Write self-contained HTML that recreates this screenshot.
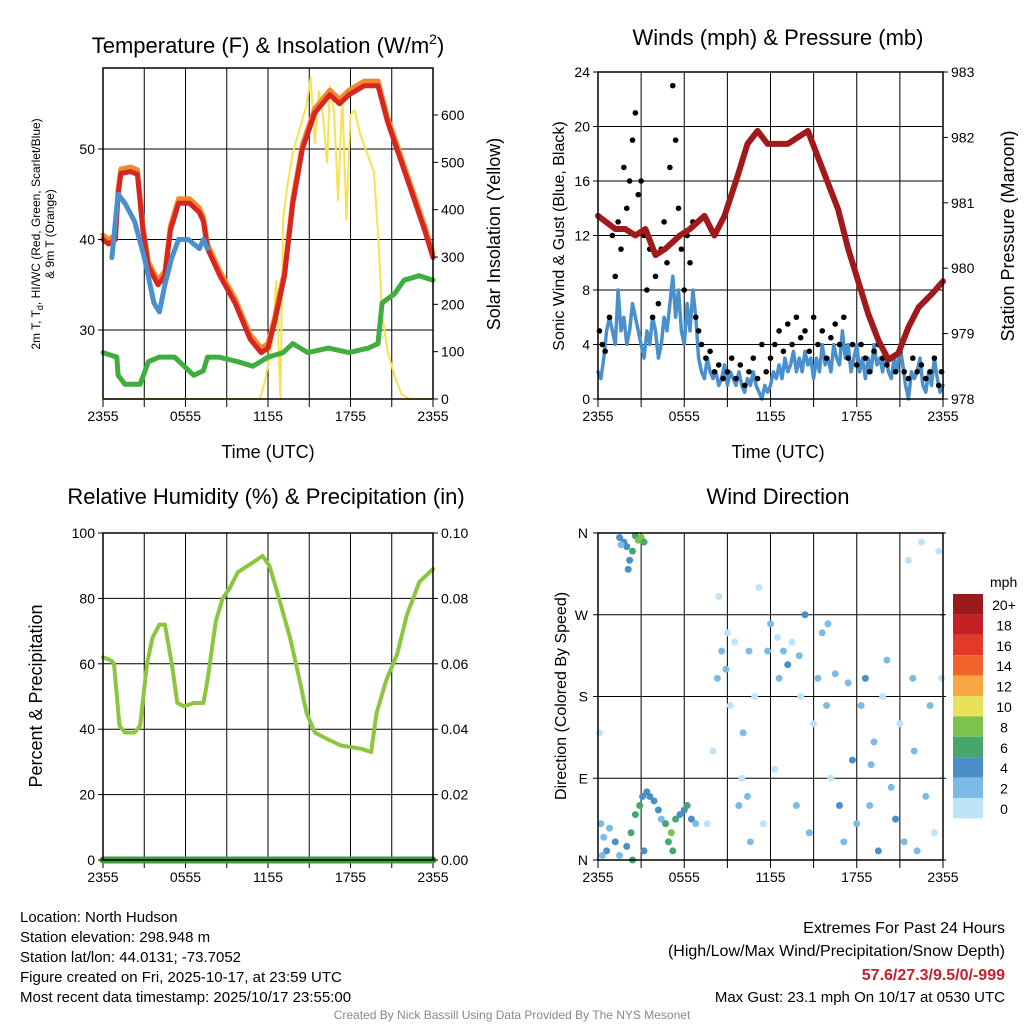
<!DOCTYPE html>
<html><head><meta charset="utf-8"><style>
html,body{margin:0;padding:0;background:#fff;}
svg{display:block;font-family:"Liberation Sans",sans-serif;}
</style></head><body>
<svg id="c" width="1024" height="1024" viewBox="0 0 1024 1024" xmlns="http://www.w3.org/2000/svg"></svg>
<script>
// ---------- DATA ----------
const tempTimes=[0,0.4,0.9,1.1,1.3,2.0,2.5,2.9,3.3,4.0,4.5,4.9,5.5,6.3,7.0,7.3,7.6,8.5,9.6,10.7,11.5,12.0,12.5,13.2,13.8,14.5,15.4,16.5,17.2,17.9,19.0,20.0,20.7,21.6,22.5,23.4,24];
const tempVals=[40,39.5,40,45,47.3,47.5,47.2,41,37,35,36,41,44,44,43,42,39,36,33,29,27.5,28,31,36,44,50,54,56,55,56,57,57,53,49,45,41,38];
const chillTimes=[0.65,0.9,1.1,1.6,2.3,3.0,3.7,4.1,4.5,5.0,5.5,6.2,7.0,7.3,7.6];
const chillVals=[38,42,45,44,42,38,33,32,35,38,40,40,39,40,39];
const dewTimes=[0,1.0,1.1,1.6,2.7,3.3,4.1,5.2,5.9,6.6,7.3,7.6,8.4,9.8,10.9,12.0,13.1,13.8,14.9,16.4,17.9,19.3,20.0,20.3,21.2,21.9,23.0,24];
const dewVals=[27.5,27,25,24,24,26.5,27,27,26,25,25.5,27,27,26.5,26,27,27.5,28.5,27.5,28,27.5,28,28.5,33,34,35.5,36,35.5];
const solTimes=[0,11.4,11.8,12.3,12.6,12.9,13.1,13.4,13.8,14.3,14.8,15.1,15.4,15.7,16.0,16.3,16.5,16.8,17.1,17.4,17.7,18.0,18.3,18.7,19.2,19.7,20.0,20.3,20.7,21.2,21.7,22.3,24];
const solVals=[0,0,40,120,250,0,380,450,520,570,620,680,540,650,600,500,660,610,420,640,380,600,610,560,520,480,350,180,100,50,10,0,0];
const presTimes=[0,1.2,1.9,2.6,3.3,4.0,4.7,5.7,6.4,7.4,8.1,8.8,9.7,10.4,11.1,11.8,12.5,13.2,13.9,14.6,15.3,16.0,16.7,17.4,18.1,18.8,19.5,20.2,20.9,21.6,22.3,23.2,24];
const presVals=[980.8,980.6,980.6,980.5,980.6,980.2,980.3,980.5,980.6,980.8,980.5,980.8,981.4,981.9,982.1,981.9,981.9,981.9,982.0,982.1,981.7,981.3,980.9,980.3,979.8,979.3,978.9,978.6,978.7,979.1,979.4,979.6,979.8];
const windVals=[2,1.5,3,5,6,5,4,8,5,6, 4,5,7,6,5,4,3,5,4,6, 5,3,4,6,5,7,9,6,8,5, 4,7,5,8,6,3,2,1.5,3,2, 1.5,2,1,1.5,2.5,1,2,1.5,1,2, 1,0.5,1.5,1,2,1,0.5,0,1,0.5, 1,2,1.5,2.5,1.5,3,2,2.5,3.5,2, 3,2,3.5,2.5,3,1.5,3,2,4,2.5, 3,2,4,3,2.5,5,3,4,2,3, 4,2,3,1.5,3,2,4,2.5,3,2, 3.5,2,1.5,3,2,4,2.5,1,0,2, 1.5,2,3,1,0.5,2,1,3,1.5,0.5,1];
const gustTimes=[0.1,0.3,0.5,0.8,1.0,1.2,1.4,1.6,1.8,2.0,2.2,2.4,2.6,2.8,3.0,3.2,3.4,3.6,3.8,4.0,4.2,4.4,4.6,4.8,5.0,5.2,5.4,5.6,5.8,6.0,6.2,6.4,6.6,6.8,7.0,7.2,7.5,7.8,8.1,8.4,8.7,9.0,9.3,9.6,9.9,10.2,10.5,10.8,11.1,11.4,11.7,12.0,12.3,12.6,12.9,13.2,13.5,13.8,14.1,14.4,14.7,15.0,15.3,15.6,15.9,16.2,16.5,16.8,17.1,17.4,17.7,18.0,18.3,18.6,18.9,19.2,19.5,19.8,20.1,20.4,20.7,21.0,21.3,21.6,21.9,22.2,22.5,22.8,23.1,23.4,23.7,23.9];
const gustVals=[5,4,3.5,6,12,9,13,11,17,14,16,19,21,15,16,12,8,11,6,9,7,11,13,10,17,23,19,14,11,8,12,10,13,6,5,4,3,3.5,2,2.5,1.5,2,3,1.5,2.5,1,2,3,1.5,4,2,3,4,5,3.5,5.5,4,6,4.5,5,3.5,6,4,5,3,4.5,5.5,4,6,3,4,2.5,4,3,2,3.5,4,3,2.5,3,2,3.5,2,1.5,3,2,2.5,1.5,2,3,1,2];
const rhTimes=[0,0.6,0.8,1.2,1.6,2.3,2.7,3.2,3.6,4.1,4.5,5.0,5.4,5.9,6.6,7.3,7.6,8.2,8.7,9.2,9.8,10.9,11.6,12.1,12.8,13.6,14.3,14.8,15.4,16.3,17.3,18.8,19.5,19.9,20.6,21.4,22.1,23.0,24];
const rhVals=[62,61,60,41,39,39,41,60,68,72,72,60,48,47,48,48,55,73,80,83,88,91,93,90,80,68,55,45,39,37,35,34,33,45,55,63,75,85,89];
const dirTimes=[1.5,1.8,2.0,2.2,2.4,2.6,2.8,3.0,3.2,2.1,1.6,0.2,0.4,0.6,0.8,1.2,1.5,2.0,2.3,2.6,2.9,3.1,3.4,3.6,3.9,4.2,4.4,4.7,4.9,5.1,5.4,5.7,6.0,6.2,6.5,6.8,3.2,2.4,5.2,0.1,0.3,7.6,8.0,8.3,8.6,8.9,9.2,9.5,9.8,10.0,10.1,10.4,10.6,10.9,11.2,11.5,11.8,12.0,12.3,12.6,12.9,13.2,13.5,13.8,14.1,14.4,14.7,15.0,15.3,15.6,15.9,16.2,16.5,16.8,17.1,17.4,17.7,18.0,18.3,18.6,18.9,19.2,19.5,19.8,20.1,20.4,20.7,21.0,21.3,21.6,21.9,22.2,22.5,22.8,23.1,23.4,23.7,23.9,22.0,19.0,16.0,14.0,12.5,10.5,9.0,8.4];
const dirVals=[355,350,345,330,340,357,352,355,350,320,347,40,25,10,35,20,5,15,30,50,60,70,75,70,65,55,45,40,20,30,45,50,55,60,45,40,10,0,10,140,5,40,120,200,230,210,170,240,60,90,140,70,20,180,300,40,230,260,100,200,230,215,240,60,180,270,30,150,200,250,170,90,205,60,20,195,110,40,170,200,60,130,10,180,220,80,45,150,20,330,200,10,350,70,170,30,340,200,120,105,260,225,245,230,250,290];
const dirSpeeds=[5,5,4,4,7,7,8,8,7,4,3,2,3,4,3,4,2,5,6,6,7,5,4,5,4,4,3,6,7,8,6,4,5,7,4,3,5,6,7,1,3,1,1,3,2,2,1,1,2,1,2,3,2,1,1,1,2,3,1,2,3,4,1,2,1,4,3,1,2,3,2,1,3,4,2,3,4,3,2,4,3,2,4,1,3,2,4,1,3,1,2,2,1,3,2,1,1,1,2,3,3,2,1,2,1,1];
const cbLabels=["20+","18","16","14","12","10","8","6","4","2","0"];
const cbColors=["#9b1a1c","#c41f25","#e2392b","#f0632b","#f8a646","#e8e25a","#7cc24d","#46a66e","#4a8fc6","#7cbbe6","#bde4f8"];

// ---------- HELPERS ----------
const svg=document.getElementById('c');const NS='http://www.w3.org/2000/svg';
function mk(tag,attrs,parent){const e=document.createElementNS(NS,tag);for(const k in attrs)e.setAttribute(k,attrs[k]);(parent||svg).appendChild(e);return e;}
function txt(x,y,s,size,anchor,parent,extra){const e=mk('text',Object.assign({x:x,y:y,'font-size':size,'text-anchor':anchor||'middle',fill:'#000'},extra||{}),parent);e.textContent=s;return e;}
function lin(a,b,c,d){return v=>c+(v-a)*(d-c)/(b-a);}
function panel(name,x0,y0,x1,y1,hgrid){
  const g=mk('g',{});
  for(let i=0;i<=8;i++){const x=x0+(x1-x0)*i/8;if(i>0&&i<8)mk('line',{x1:x,y1:y0,x2:x,y2:y1,stroke:'#000','stroke-width':1},g);mk('line',{x1:x,y1:y1,x2:x,y2:y1+8,stroke:'#000'},g);}
  hgrid.forEach(y=>mk('line',{x1:x0,y1:y,x2:x1,y2:y,stroke:'#000','stroke-width':1},g));
  const xl=['2355','0555','1155','1755','2355'];
  for(let i=0;i<5;i++){const x=x0+(x1-x0)*i/4;txt(x,y1+22,xl[i],14,'middle',g);}
  return g;}
function frame(g,x0,y0,x1,y1){mk('rect',{x:x0,y:y0,width:x1-x0,height:y1-y0,fill:'none',stroke:'#000','stroke-width':1.5},g);}
function poly(g,xs,ys,fx,fy,color,w,name){const p=mk('polyline',{points:xs.map((t,i)=>fx(t).toFixed(1)+','+fy(ys[i]).toFixed(1)).join(' '),fill:'none',stroke:color,'stroke-width':w,'stroke-linejoin':'round','stroke-linecap':'round'},g);return p;}
function yticks(g,vals,fy,x,side,fmt){vals.forEach(v=>{const y=fy(v);txt(side<0?x-8:x+8,y+5,fmt(v),14,side<0?'end':'start',g);mk('line',{x1:x,y1:y,x2:x+side*5,y2:y,stroke:'#000'},g);});}

// ---------- PANEL 1 ----------
{const X0=103,X1=433,Y0=68,Y1=399;
 const fx=lin(0,24,X0,X1),fy=lin(30,50,330,149),fs=lin(0,600,399,115);
 const g=panel('temperature-panel',X0,Y0,X1,Y1,[fy(30),fy(40),fy(50)]);
 poly(g,solTimes,solVals,fx,fs,'#f7e24f',2,'solar-insolation-line');
 poly(g,dewTimes,dewVals,fx,fy,'#3fae3f',5,'dewpoint-line');
 poly(g,tempTimes,tempVals.map(v=>v+0.5),fx,fy,'#f08a2c',5,'temp-9m-line');
 poly(g,tempTimes,tempVals,fx,fy,'#d7261f',5,'temp-2m-line');
 poly(g,chillTimes,chillVals,fx,fy,'#4a90cc',5,'windchill-line');
 frame(g,X0,Y0,X1,Y1);
 yticks(g,[30,40,50],fy,X0,-1,v=>v);
 yticks(g,[0,100,200,300,400,500,600],fs,X1,1,v=>v);
 const t=txt(268,53,'Temperature (F) & Insolation (W/m',22,'middle',g);const s=mk('tspan',{'font-size':14,dy:-9},t);s.textContent='2';const s2=mk('tspan',{dy:9},t);s2.textContent=')';
 
 txt(268,458,'Time (UTC)',18,'middle',g);
 const yl=txt(0,0,'',12,'middle',g,{transform:'translate(40,234) rotate(-90)'});yl.innerHTML='2m T, T<tspan font-size="9" dy="3">d</tspan><tspan dy="-3">, HI/WC (Red, Green, Scarlet/Blue)</tspan>';
 txt(0,0,'& 9m T (Orange)',12,'middle',g,{transform:'translate(54,234) rotate(-90)'});
 txt(0,0,'Solar Insolation (Yellow)',18,'middle',g,{transform:'translate(500,234) rotate(-90)'});
}
// ---------- PANEL 2 ----------
{const X0=598,X1=943,Y0=72,Y1=399;
 const fx=lin(0,24,X0,X1),fy=lin(0,24,399,72),fp=lin(978,983,399,72);
 const g=panel('winds-panel',X0,Y0,X1,Y1,[4,8,12,16,20].map(fy));
 poly(g,windVals.map((v,i)=>i*24/(windVals.length-1)),windVals,fx,fy,'#4a90cc',3.5,'sonic-wind-line');
 gustTimes.forEach((t,i)=>{const c=mk('circle',{cx:fx(t),cy:fy(gustVals[i]),r:2.8,fill:'#000'},g);});
 poly(g,presTimes,presVals,fx,fp,'#a0191b',6,'pressure-line');
 frame(g,X0,Y0,X1,Y1);
 yticks(g,[0,4,8,12,16,20,24],fy,X0,-1,v=>v);
 yticks(g,[978,979,980,981,982,983],fp,X1,1,v=>v);
 txt(778,45,'Winds (mph) & Pressure (mb)',22,'middle',g);
 txt(778,458,'Time (UTC)',18,'middle',g);
 txt(0,0,'Sonic Wind & Gust (Blue, Black)',16,'middle',g,{transform:'translate(564,236) rotate(-90)'});
 txt(0,0,'Station Pressure (Maroon)',18,'middle',g,{transform:'translate(1014,236) rotate(-90)'});
}
// ---------- PANEL 3 ----------
{const X0=103,X1=433,Y0=533,Y1=860;
 const fx=lin(0,24,X0,X1),fy=lin(0,100,860,533),fr=lin(0,0.1,860,533);
 const g=panel('humidity-panel',X0,Y0,X1,Y1,[20,40,60,80].map(fy));
 poly(g,rhTimes,rhVals,fx,fy,'#8cc63f',4,'relative-humidity-line');
 poly(g,[0,24],[0,0],fx,fr,'#3d9c3d',7,'precipitation-line');
 frame(g,X0,Y0,X1,Y1);
 yticks(g,[0,20,40,60,80,100],fy,X0,-1,v=>v);
 yticks(g,[0,0.02,0.04,0.06,0.08,0.1],fr,X1,1,v=>v.toFixed(2));
 txt(266,504,'Relative Humidity (%) & Precipitation (in)',22,'middle',g);
 txt(0,0,'Percent & Precipitation',18,'middle',g,{transform:'translate(42,696) rotate(-90)'});
}
// ---------- PANEL 4 ----------
{const X0=598,X1=943,Y0=533,Y1=860;
 const fx=lin(0,24,X0,X1),fy=lin(0,360,860,533);
 const g=panel('wind-direction-panel',X0,Y0,X1,Y1,[90,180,270].map(fy));
 const col=s=>cbColors[10-Math.min(10,Math.floor(s/2))];
 dirTimes.forEach((t,i)=>{const c=mk('circle',{cx:fx(t),cy:fy(dirVals[i]),r:3.5,fill:col(dirSpeeds[i])},g);});
 frame(g,X0,Y0,X1,Y1);
 ['N','E','S','W','N'].forEach((l,i)=>{const y=fy(i*90);txt(X0-10,y+5,l,14,'end',g);mk('line',{x1:X0,y1:y,x2:X0-5,y2:y,stroke:'#000'},g);mk('line',{x1:X1-3,y1:y,x2:X1+3,y2:y,stroke:'#000'},g);});
 txt(778,504,'Wind Direction',22,'middle',g);
 txt(0,0,'Direction (Colored By Speed)',16,'middle',g,{transform:'translate(566,696) rotate(-90)'});
 const cb=mk('g',{},g);
 txt(990,587,'mph',14,'start',cb);
 cbLabels.forEach((l,i)=>{const y=594+i*20.4;mk('rect',{x:953,y:y,width:30,height:20.4,fill:cbColors[i]},cb);txt(1004,y+16,l,14,'middle',cb);});
}
// ---------- FOOTER ----------
{const g=mk('g',{});
 ['Location: North Hudson','Station elevation: 298.948 m','Station lat/lon: 44.0131; -73.7052','Figure created on Fri, 2025-10-17, at 23:59 UTC','Most recent data timestamp: 2025/10/17 23:55:00'].forEach((s,i)=>txt(20,922+i*20,s,15,'start',g));
 const h=mk('g',{});
 txt(1005,933,'Extremes For Past 24 Hours',16,'end',h);
 txt(1005,956,'(High/Low/Max Wind/Precipitation/Snow Depth)',16,'end',h);
 txt(1005,980,'57.6/27.3/9.5/0/-999',16,'end',h,{fill:'#c8202a','font-weight':'bold'});
 txt(1005,1002,'Max Gust: 23.1 mph On 10/17 at 0530 UTC',15,'end',h);
 txt(512,1019,'Created By Nick Bassill Using Data Provided By The NYS Mesonet',12,'middle',h,{fill:'#888'});
}
</script>
</body></html>
